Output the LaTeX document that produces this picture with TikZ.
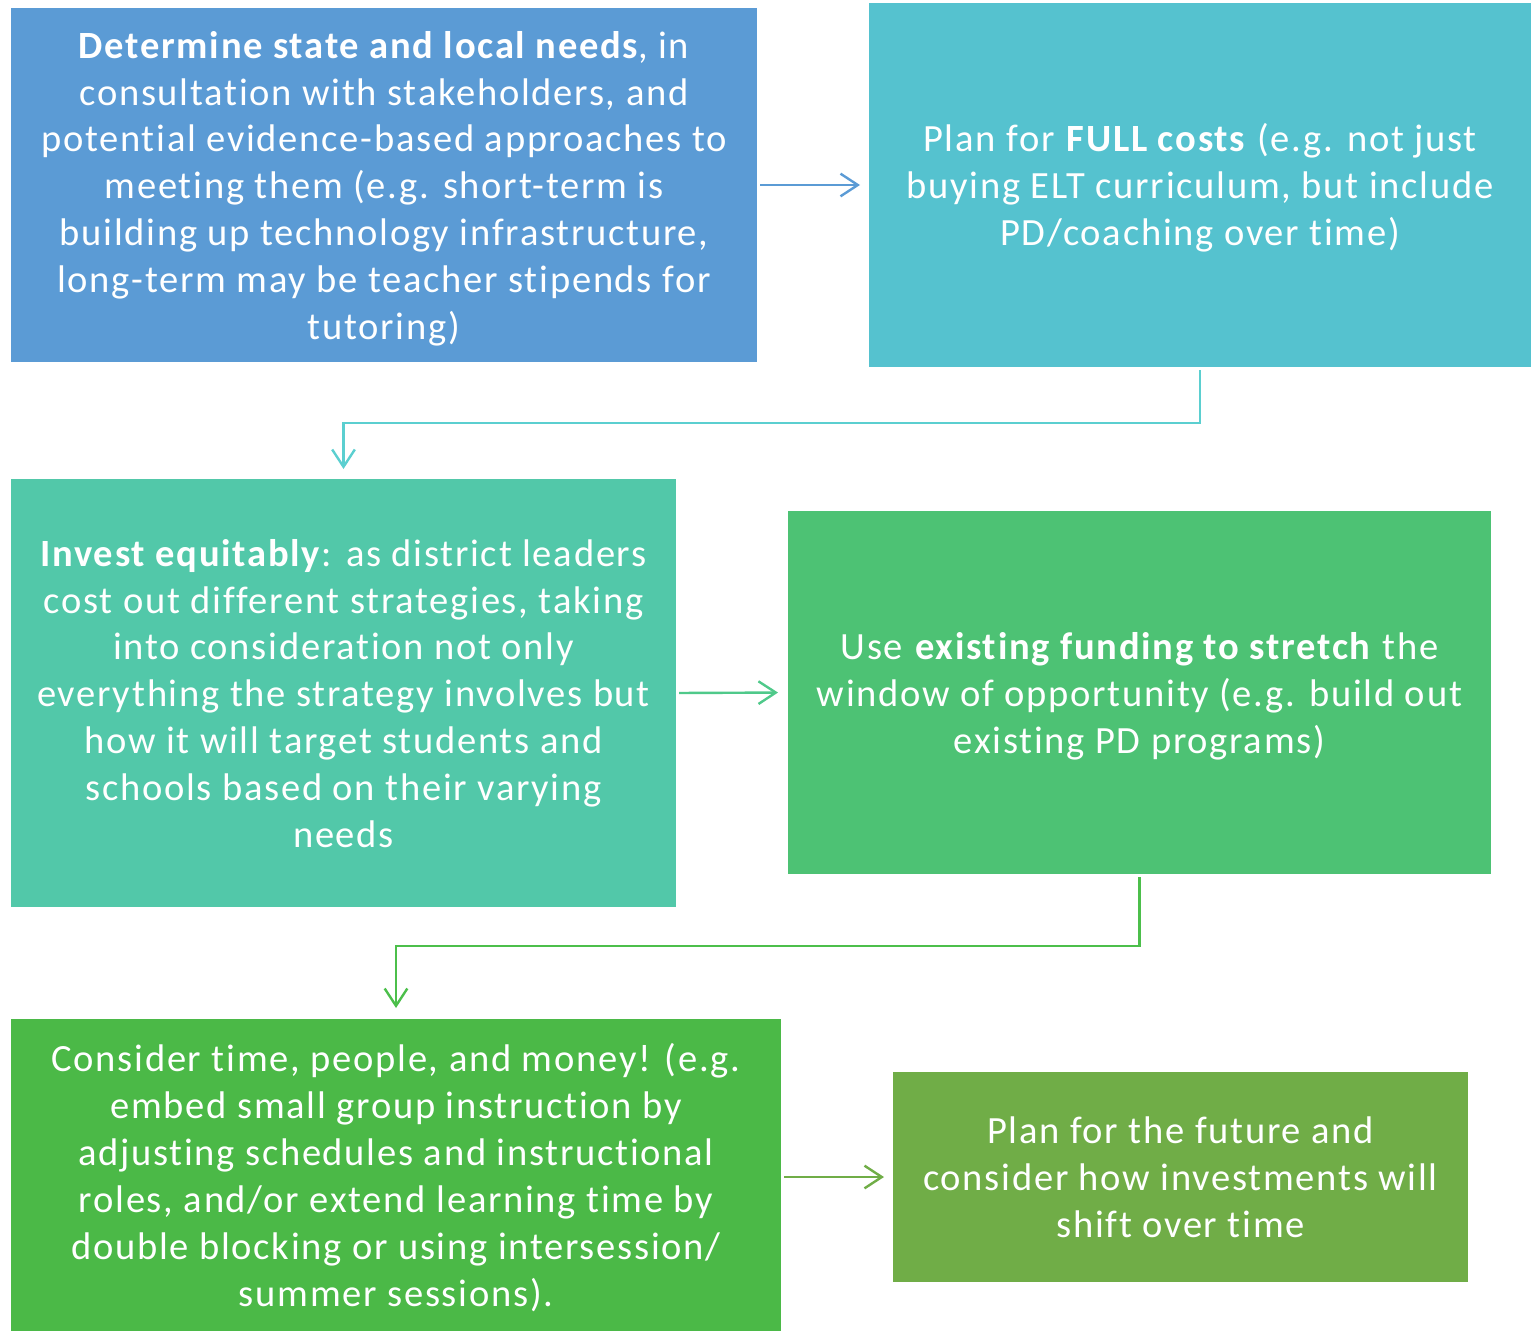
\documentclass[tikz,border=0pt]{standalone}
\usepackage{fontspec}
\setmainfont{Carlito}[Renderer=OpenType,LetterSpace=4.5,Ligatures=NoCommon,RawFeature={-liga;-ccmp}]
\usetikzlibrary{arrows.meta}

\definecolor{fillA}{HTML}{5B9BD5}
\definecolor{fillB}{HTML}{55C2CF}
\definecolor{fillC}{HTML}{52C8A9}
\definecolor{fillD}{HTML}{4DC274}
\definecolor{fillE}{HTML}{4BB947}
\definecolor{fillF}{HTML}{70AD47}
\definecolor{lineA}{HTML}{5B9BD5}
\definecolor{lineB}{HTML}{5BCFD0}
\definecolor{lineC}{HTML}{4FC98A}
\definecolor{lineD}{HTML}{4CBF4B}
\definecolor{lineE}{HTML}{70AD47}

% line-box struts: full line ascent (with the line gap above) and descent
\newcommand\topstrut{\rule{0pt}{0.97em}}
\newcommand\botstrut{\rule[-0.25em]{0pt}{0.25em}}

\begin{document}
\begin{tikzpicture}[x=0.75pt,y=-0.75pt,
  stagebox/.style={rectangle,inner sep=0pt,outer sep=0pt,text=white,
    align=center,font=\fontsize{28.9}{35.2}\selectfont},
  flow/.style={line width=1.8pt,
    -{Straight Barb[length=13pt,width=17pt]}}]
\useasboundingbox (0,0) rectangle (1538,1331);

% process stages
\node[stagebox,fill=fillA,minimum width=746*0.75pt,minimum height=354*0.75pt] (b1) at (384,185)
  {\topstrut\textbf{Determine state and local needs}, in\\
   consultation with stakeholders, and\\
   potential evidence-based approaches to\\
   meeting them (e.g. short-term is\\
   building up technology infrastructure,\\
   long-term may be teacher stipends for\\
   tutoring)\botstrut};
\node[stagebox,fill=fillB,minimum width=662*0.75pt,minimum height=364*0.75pt] (b2) at (1200,185)
  {\topstrut Plan for \textbf{FULL costs} (e.g. not just\\
   buying ELT curriculum, but include\\
   PD/coaching over time)\botstrut};
\node[stagebox,fill=fillC,minimum width=665*0.75pt,minimum height=428*0.75pt] (b3) at (343.5,693)
  {\topstrut\textbf{Invest equitably}: as district leaders\\
   cost out different strategies, taking\\
   into consideration not only\\
   everything the strategy involves but\\
   how it will target students and\\
   schools based on their varying\\
   needs\botstrut};
\node[stagebox,fill=fillD,minimum width=703*0.75pt,minimum height=363*0.75pt] (b4) at (1139.5,692.5)
  {\topstrut Use \textbf{existing funding to stretch} the\\
   window of opportunity (e.g. build out\\
   existing PD programs)\botstrut};
\node[stagebox,fill=fillE,minimum width=770*0.75pt,minimum height=312*0.75pt] (b5) at (396,1175)
  {\topstrut Consider time, people, and money! (e.g.\\
   embed small group instruction by\\
   adjusting schedules and instructional\\
   roles, and/or extend learning time by\\
   double blocking or using intersession/\\
   summer sessions).\botstrut};
\node[stagebox,fill=fillF,minimum width=575*0.75pt,minimum height=210*0.75pt] (b6) at (1180.5,1177)
  {\topstrut Plan for the future and\\
   consider how investments will\\
   shift over time\botstrut};

% connectors
\draw[flow,lineA,shorten <=2.25pt,shorten >=6.75pt] (b1.east) -- (b2.west);
\draw[flow,lineB,shorten <=2.25pt,shorten >=7.5pt] (b2.south) -- ++(0,56) -| (b3.north);
\draw[flow,lineC,shorten <=2.25pt,shorten >=7.5pt] (b3.east) -- (b4.west);
\draw[flow,lineD,shorten <=2.25pt,shorten >=8.25pt] (b4.south) -- ++(0,72) -| (b5.north);
\draw[flow,lineE,shorten <=2.25pt,shorten >=6.75pt] (b5.east |- b6.west) -- (b6.west);
\end{tikzpicture}
\end{document}
